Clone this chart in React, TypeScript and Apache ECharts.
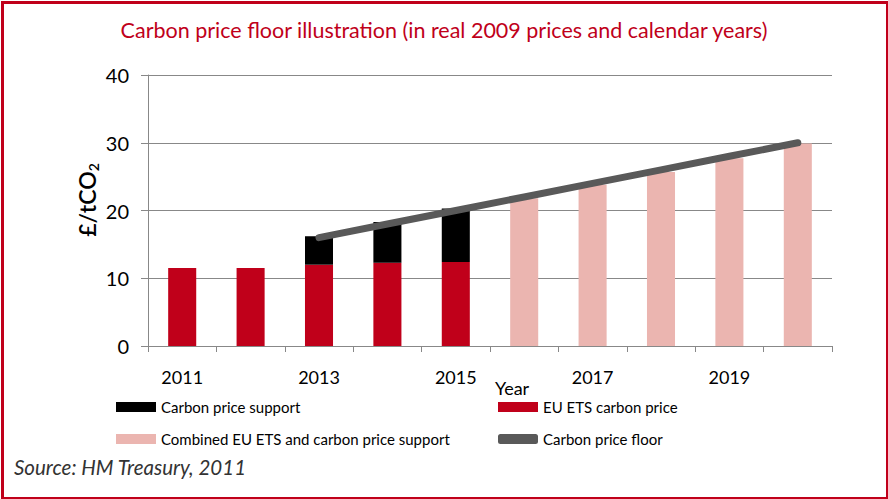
import React, { useEffect, useRef } from "react";
import * as echarts from "echarts";

const years = ["2011", "2012", "2013", "2014", "2015", "2016", "2017", "2018", "2019", "2020"];
const euEts = [11.5, 11.5, 12.0, 12.3, 12.4, null, null, null, null, null];
const support = [null, null, 4.2, 6.0, 7.9, null, null, null, null, null];
const combined = [null, null, null, null, null, 21.8, 23.8, 25.7, 27.7, 29.9];
const floor = [null, null, 16, 18, 20, 22, 24, 26, 28, 30];
const yTicks = [0, 10, 20, 30, 40];

const FONT = "Lato, 'Open Sans', sans-serif";
const RED = "#c0001a";
const PINK = "#ebb5b0";
const GREY = "#595959";

export default function App() {
  const ref = useRef<HTMLDivElement>(null);
  useEffect(() => {
    if (!ref.current) return;
    const chart = echarts.init(ref.current, null, { renderer: "svg" });
    const legendBase = {
      orient: "vertical",
      top: 398,
      padding: 0,
      itemWidth: 40,
      itemHeight: 10,
      itemGap: 14,
      textStyle: { fontFamily: FONT, fontSize: 15, color: "#000", lineHeight: 18 },
    };
    chart.setOption({
      animation: false,
      backgroundColor: "#fff",
      textStyle: { fontFamily: FONT },
      title: {
        text: "Carbon price floor illustration (in real 2009 prices and calendar years)",
        left: "center",
        top: 19,
        padding: 0,
        textStyle: { fontFamily: FONT, fontSize: 21.5, fontWeight: "normal", color: RED },
      },
      grid: { left: 148, right: 56, top: 75, bottom: 153, containLabel: false },
      legend: [
        {
          ...legendBase,
          left: 116,
          data: [
            { name: "Carbon price support", icon: "rect" },
            { name: "Combined EU ETS and carbon price support", icon: "rect" },
          ],
        },
        {
          ...legendBase,
          left: 498,
          data: [
            { name: "EU ETS carbon price", icon: "rect" },
            { name: "Carbon price floor", icon: "roundRect" },
          ],
        },
      ],
      xAxis: {
        type: "category",
        data: years,
        boundaryGap: true,
        axisLine: { lineStyle: { color: "#888", width: 1 } },
        axisTick: { show: true, interval: 0, length: 6, lineStyle: { color: "#888" } },
        axisLabel: {
          interval: 1,
          margin: 22,
          fontFamily: FONT,
          fontSize: 18,
          color: "#000",
        },
        splitLine: { show: false },
      },
      yAxis: {
        type: "value",
        min: yTicks[0],
        max: yTicks[yTicks.length - 1],
        interval: 10,
        axisLine: { show: true, lineStyle: { color: "#888", width: 1 } },
        axisTick: { show: true, length: 7, lineStyle: { color: "#888" } },
        axisLabel: { margin: 19, fontFamily: FONT, fontSize: 20, color: "#000" },
        splitLine: { show: true, lineStyle: { color: "#888", width: 1 } },
      },
      series: [
        {
          name: "EU ETS carbon price",
          type: "bar",
          stack: "a",
          barWidth: "41%",
          itemStyle: { color: RED },
          data: euEts,
        },
        {
          name: "Carbon price support",
          type: "bar",
          stack: "a",
          barWidth: "41%",
          itemStyle: { color: "#000" },
          data: support,
        },
        {
          name: "Combined EU ETS and carbon price support",
          type: "bar",
          stack: "a",
          barWidth: "41%",
          itemStyle: { color: PINK },
          data: combined,
        },
        {
          name: "Carbon price floor",
          type: "line",
          data: floor,
          showSymbol: false,
          symbol: "none",
          z: 5,
          itemStyle: { color: GREY },
          lineStyle: { color: GREY, width: 7, cap: "round" },
        },
      ],
      graphic: [
        {
          type: "rect",
          left: 0,
          top: 0,
          shape: { x: 1.5, y: 1.5, width: 885, height: 496 },
          style: { fill: "none", stroke: RED, lineWidth: 3 },
          silent: true,
        },
        {
          type: "text",
          x: 87,
          y: 200,
          rotation: Math.PI / 2,
          style: {
            text: "£/tCO{sub|2}",
            fontFamily: FONT,
            fontSize: 23,
            fontWeight: 600,
            fill: "#000",
            align: "center",
            verticalAlign: "middle",
            rich: {
              sub: { fontFamily: FONT, fontSize: 14, fontWeight: 600, padding: [12, 0, 0, 0] },
            },
          },
        },
        {
          type: "text",
          x: 512,
          y: 388,
          style: {
            text: "Year",
            fontFamily: FONT,
            fontSize: 18,
            fill: "#000",
            align: "center",
            verticalAlign: "middle",
          },
        },
        {
          type: "text",
          x: 14,
          y: 467,
          style: {
            text: "Source: HM Treasury, 2011",
            fontFamily: FONT,
            fontSize: 20.5,
            fontStyle: "italic",
            fill: "#333",
            align: "left",
            verticalAlign: "middle",
          },
        },
      ],
    });
    return () => chart.dispose();
  }, []);
  return (
    <div
      ref={ref}
      style={{ position: "fixed", left: 0, top: 0, width: 888, height: 499 }}
    />
  );
}
